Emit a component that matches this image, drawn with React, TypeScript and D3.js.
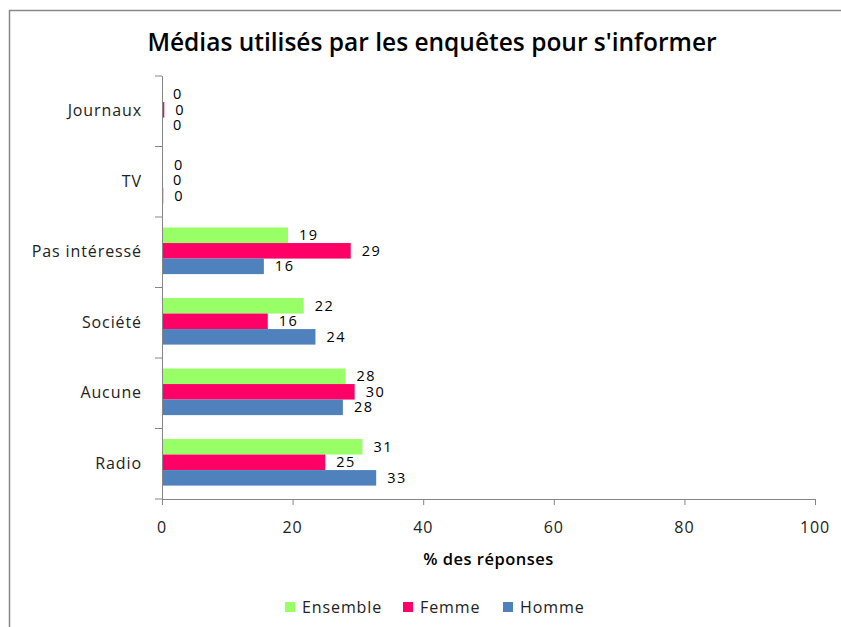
import React from "react";
import * as d3 from "d3";

const categories = ["Journaux", "TV", "Pas intéressé", "Société", "Aucune", "Radio"];
const seriesNames = ["Ensemble", "Femme", "Homme"];
const ensemble = [0, 0.15, 19.3, 21.7, 28.1, 30.7];
const femme = [0.35, 0, 28.9, 16.2, 29.5, 25.0];
const homme = [0, 0.2, 15.6, 23.5, 27.7, 32.8];
const xTicks = [0, 20, 40, 60, 80, 100];
const colors = ["#99FF66", "#FF0066", "#4F81BD"];
const title = "Médias utilisés par les enquêtes pour s'informer";
const xTitle = "% des réponses";

const W = 841, H = 627;
const M = { left: 162, right: 815, top: 76, bottom: 499 };
const FONT = "'Open Sans', 'Liberation Sans', sans-serif";

export default function App() {
  const x = d3.scaleLinear().domain([0, 100]).range([M.left, M.right]);
  const y = d3.scaleBand<string>().domain(categories).range([M.top, M.bottom]).paddingInner(0).paddingOuter(0);
  const inner = d3.scaleBand<string>().domain(seriesNames).range([0, y.bandwidth()]).paddingInner(0).paddingOuter(0.77).align(0.44);
  const data = [ensemble, femme, homme];
  const axisColor = "#868686";
  return (
    <svg width={W} height={H} style={{ position: "absolute", left: 0, top: 0, background: "#fff" }}>
      <rect x={9.5} y={10.5} width={W + 10} height={H + 10} fill="none" stroke="#888" strokeWidth={1.5} />
      <text x={432} y={51} textAnchor="middle" fontFamily={FONT} fontWeight={600} fontSize={24.5} fill="#000">{title}</text>
      {seriesNames.map((s, si) =>
        categories.map((c, ci) => {
          const v = data[si][ci];
          const by = (y(c) as number) + (inner(s) as number);
          return (
            <g key={s + c}>
              <rect x={x(0)} y={by} width={x(v) - x(0)} height={inner.bandwidth()} fill={colors[si]} />
              <text x={x(v) + 11} y={by + inner.bandwidth() / 2 + 5} fontFamily={FONT} fontSize={14.5} fill="#000" letterSpacing={1.5}>{Math.round(v)}</text>
            </g>
          );
        })
      )}
      <line x1={M.left + 0.5} x2={M.left + 0.5} y1={M.top} y2={M.bottom} stroke={axisColor} />
      {d3.range(categories.length + 1).map((i) => {
        const yy = M.top + i * y.step();
        return <line key={"yt" + i} x1={M.left - 7} x2={M.left} y1={yy} y2={yy} stroke={axisColor} />;
      })}
      {categories.map((c) => (
        <text key={"cl" + c} x={142} y={(y(c) as number) + y.bandwidth() / 2 + 5} textAnchor="end" fontFamily={FONT} fontSize={16} fill="#222" letterSpacing={0.9}>{c}</text>
      ))}
      <line x1={M.left} x2={M.right} y1={M.bottom + 0.5} y2={M.bottom + 0.5} stroke={axisColor} />
      {xTicks.map((t) => (
        <g key={"xt" + t}>
          <line x1={x(t) + 0.5} x2={x(t) + 0.5} y1={M.bottom} y2={M.bottom + 6} stroke={axisColor} />
          <text x={x(t)} y={533} textAnchor="middle" fontFamily={FONT} fontSize={16} fill="#222" letterSpacing={0.9}>{t}</text>
        </g>
      ))}
      <text x={(M.left + M.right) / 2} y={565} textAnchor="middle" fontFamily={FONT} fontWeight={600} fontSize={16.5} fill="#000" letterSpacing={0.5}>{xTitle}</text>
      {seriesNames.map((s, i) => {
        const lx = [285, 403, 503][i];
        return (
          <g key={"lg" + s}>
            <rect x={lx} y={602} width={10} height={10} fill={colors[i]} />
            <text x={lx + 17} y={613} fontFamily={FONT} fontSize={16} fill="#222" letterSpacing={0.9}>{s}</text>
          </g>
        );
      })}
    </svg>
  );
}
